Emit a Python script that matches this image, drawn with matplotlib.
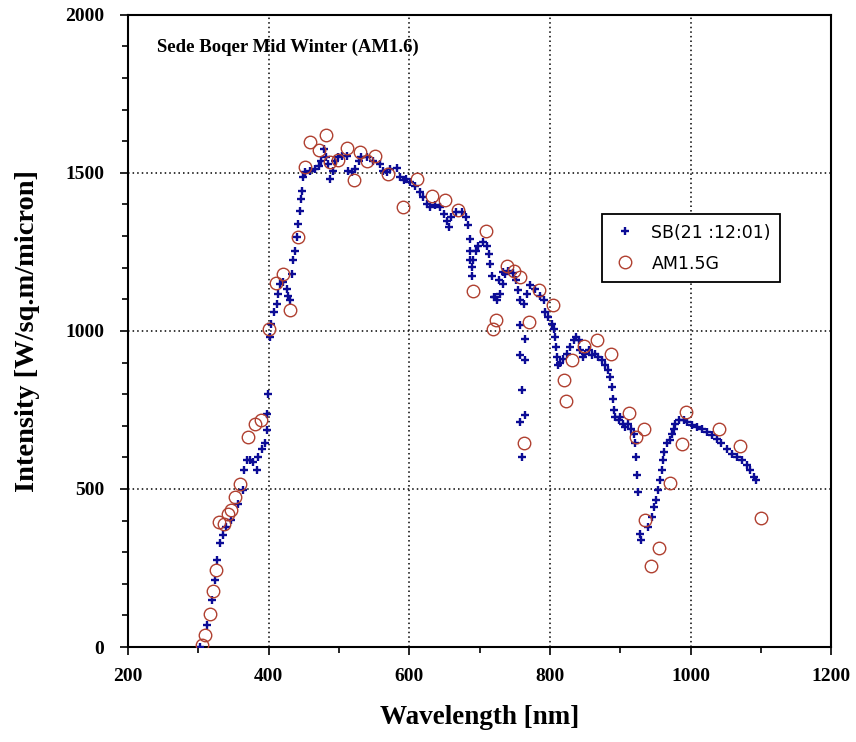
import numpy as np
import matplotlib.pyplot as plt
from matplotlib.ticker import MultipleLocator

# ---------------------------------------------------------------
#  Mesures Sede Boqer (21:12:01) : longueur d'onde (nm), intensité
# ---------------------------------------------------------------
sb_wl = [303, 312, 319, 324, 327, 331, 335, 340, 347, 357, 364, 365, 369, 374,
         378, 384, 385, 390, 395, 398, 398, 399, 402, 403, 407, 412, 414, 416,
         421, 426, 428, 430, 433, 435, 438, 440, 442, 444, 446, 447, 449, 452,
         459, 466, 471, 475, 479, 482, 485, 487, 491, 494, 498, 504, 511, 513,
         518, 523, 528, 532, 540, 549, 558, 563, 568, 573, 582, 587, 592, 596,
         601, 608, 615, 620, 625, 630, 637, 644, 649, 653, 657, 660, 667, 675,
         681, 683, 686, 686, 686, 689, 689, 691, 695, 698, 705, 710, 713, 715,
         717, 720, 722, 725, 727, 729, 733, 734, 736, 741, 747, 752, 755, 757,
         757, 758, 758, 760, 760, 763, 764, 765, 765, 767, 772, 779, 786, 791,
         793, 798, 803, 806, 807, 808, 810, 812, 815, 819, 824, 829, 834, 837,
         841, 843, 847, 850, 855, 860, 864, 869, 874, 879, 883, 886, 888, 890,
         891, 893, 898, 900, 904, 907, 911, 915, 919, 921, 923, 924, 925, 928,
         930, 940, 945, 948, 951, 954, 957, 959, 961, 962, 966, 971, 973, 976,
         978, 983, 990, 995, 1002, 1009, 1016, 1023, 1030, 1037, 1044, 1052,
         1059, 1066, 1073, 1080, 1085, 1090, 1093]
sb_int = [0, 70, 148, 212, 275, 328, 354, 380, 401, 454, 496, 561, 591, 591,
          586, 559, 601, 628, 644, 686, 738, 802, 981, 1023, 1060, 1086, 1118, 1149,
          1154, 1133, 1112, 1097, 1181, 1223, 1254, 1297, 1339, 1381, 1418, 1444,
          1486, 1502, 1507, 1512, 1523, 1539, 1576, 1549, 1528, 1481, 1507, 1539,
          1549, 1555, 1555, 1507, 1502, 1512, 1539, 1549, 1549, 1539, 1528, 1507,
          1502, 1512, 1515, 1486, 1476, 1481, 1470, 1460, 1439, 1423, 1402, 1391,
          1397, 1391, 1370, 1349, 1328, 1360, 1375, 1375, 1360, 1334, 1292, 1254,
          1223, 1202, 1175, 1223, 1254, 1270, 1281, 1270, 1244, 1212, 1175, 1107,
          1107, 1099, 1160, 1118, 1149, 1186, 1181, 1191, 1183, 1160, 1128, 1097,
          923, 1018, 712, 812, 601, 1086, 907, 976, 733, 1118, 1144, 1133, 1112,
          1097, 1060, 1044, 1023, 1007, 981, 950, 917, 891, 899, 912, 928, 949,
          970, 981, 970, 939, 917, 928, 939, 923, 928, 917, 907, 891, 875, 854,
          823, 786, 749, 728, 717, 728, 707, 696, 707, 691, 675, 644, 601, 544,
          491, 359, 338, 380, 412, 444, 465, 496, 528, 559, 591, 617, 644, 654,
          675, 691, 707, 717, 717, 712, 701, 696, 691, 680, 670, 659, 644, 628,
          612, 601, 591, 575, 559, 538, 528]

# Spectre de référence AM1.5G
am_wl = [305, 310, 317, 321, 325, 330, 336, 342, 346, 352, 359, 370, 381, 389,
         401, 410, 421, 430, 442, 452, 459, 471, 482, 487, 499, 511, 521, 530,
         540, 551, 570, 591, 611, 632, 651, 670, 691, 709, 719, 724, 739, 749,
         757, 763, 770, 785, 805, 820, 823, 831, 848, 867, 887, 912, 922, 934,
         935, 944, 955, 971, 988, 994, 1041, 1071, 1100]
am_int = [6, 38, 106, 178, 243, 396, 389, 422, 435, 475, 515, 665, 707, 717,
          1007, 1151, 1181, 1067, 1297, 1518, 1597, 1571, 1621, 1534, 1541, 1579,
          1478, 1565, 1539, 1555, 1495, 1391, 1481, 1428, 1415, 1383, 1126, 1316,
          1007, 1036, 1207, 1191, 1172, 645, 1028, 1128, 1081, 844, 778, 907, 951,
          970, 928, 740, 665, 691, 401, 256, 312, 519, 641, 744, 689, 635, 407]

# ---------------------------------------------------------------
#  Tracé
# ---------------------------------------------------------------
plt.rcParams["font.family"] = "Liberation Serif"
plt.rcParams["font.weight"] = "bold"
plt.rcParams["axes.labelweight"] = "bold"
plt.rcParams["font.size"] = 14

fig = plt.figure(figsize=(8.56, 7.42), dpi=100)
ax = fig.add_axes([0.1495, 0.128, 0.8215, 0.852])

ax.plot(sb_wl, sb_int, linestyle="none", marker="+", markersize=5.5,
        markeredgewidth=1.7, color="#0c0c96", label="SB(21 :12:01)", zorder=3)
ax.plot(am_wl, am_int, linestyle="none", marker="o", markersize=9,
        markerfacecolor="none", markeredgecolor="#b04030", markeredgewidth=1.0,
        label="AM1.5G", zorder=4)

ax.set_xlim(200, 1200)
ax.set_ylim(0, 2000)
ax.xaxis.set_major_locator(MultipleLocator(200))
ax.xaxis.set_minor_locator(MultipleLocator(100))
ax.yaxis.set_major_locator(MultipleLocator(500))
ax.yaxis.set_minor_locator(MultipleLocator(100))
ax.tick_params(which="both", direction="out", width=1.2, color="black",
               labelsize=14)
ax.tick_params(which="major", length=6)
ax.tick_params(which="minor", length=4)
ax.tick_params(axis="x", which="major", pad=9)
ax.tick_params(axis="y", which="major", pad=11)
for s in ax.spines.values():
    s.set_linewidth(1.5)

ax.grid(which="major", color="black", linestyle=(0, (1, 2)), linewidth=1.1)
ax.set_axisbelow(True)

ax.set_xlabel("Wavelength [nm]", fontsize=19.5)
ax.set_ylabel("Intensity [W/sq.m/micron]", fontsize=20.5)
ax.xaxis.set_label_coords(0.5, -0.091)
ax.yaxis.set_label_coords(-0.125, 0.5)
ax.text(0.041, 0.949, "Sede Boqer Mid Winter (AM1.6)", transform=ax.transAxes,
        fontsize=13.5, va="center", ha="left")

leg = ax.legend(loc="upper left", bbox_to_anchor=(0.674, 0.685), frameon=True,
                fancybox=False, edgecolor="black", framealpha=1,
                prop={"family": "DejaVu Sans", "size": 12.5, "weight": "normal"},
                handletextpad=0.7, borderpad=0.55, labelspacing=0.75,
                handlelength=1.6, borderaxespad=0)
leg.get_frame().set_linewidth(1.3)

fig.savefig("out.png", dpi=100)
